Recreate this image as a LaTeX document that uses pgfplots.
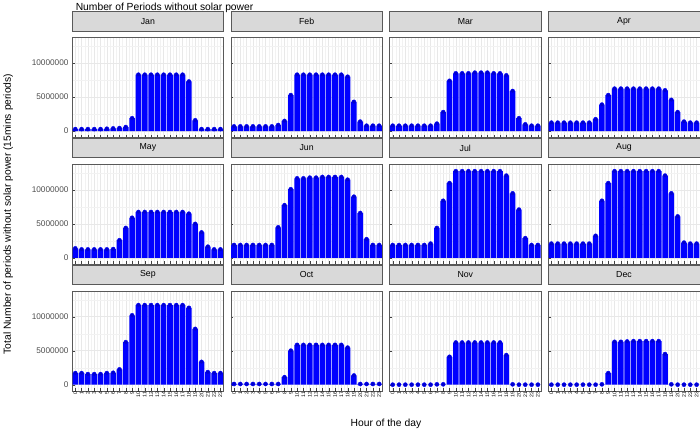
\documentclass[border=0pt]{standalone}
\usepackage{pgfplots}
\usepackage{pgfplotstable}
\pgfplotsset{compat=1.18}
\usepgfplotslibrary{groupplots}
\usepackage{fontspec}
\setmainfont{Liberation Sans}
\definecolor{barc}{HTML}{595959}
\definecolor{stripc}{HTML}{D9D9D9}
\pgfplotstableread{
h Jan Feb Mar Apr May Jun Jul Aug Sep Oct Nov Dec
0 0.3 0.7 0.8 1.25 1.4 1.9 1.9 2.1 1.7 0.1 0 0
1 0.3 0.7 0.8 1.25 1.25 1.9 1.9 2.1 1.7 0.1 0 0
2 0.3 0.7 0.8 1.25 1.25 1.9 1.9 2.1 1.55 0.1 0 0
3 0.3 0.7 0.8 1.25 1.25 1.9 1.9 2.1 1.55 0.1 0 0
4 0.3 0.7 0.8 1.25 1.25 1.9 1.9 2.1 1.55 0.1 0 0
5 0.35 0.7 0.8 1.25 1.25 1.9 1.9 2.1 1.7 0.1 0 0
6 0.4 0.7 0.8 1.25 1.3 1.9 2.1 2.1 1.75 0.1 0 0
7 0.45 0.9 1.1 1.75 2.6 4.5 4.4 3.25 2.25 0.1 0.05 0
8 0.6 1.5 2.8 3.9 4.4 7.75 8.4 8.4 6.25 1.1 0.05 0.05
9 1.9 5.3 7.4 5.3 5.9 10.1 11.0 11.0 10.2 5.0 4.1 1.7
10 8.3 8.3 8.5 6.25 6.75 11.7 12.75 12.75 11.7 5.85 6.2 6.3
11 8.3 8.3 8.5 6.25 6.75 11.7 12.75 12.75 11.7 5.85 6.2 6.3
12 8.3 8.3 8.5 6.25 6.75 11.8 12.75 12.75 11.7 5.85 6.2 6.35
13 8.3 8.3 8.6 6.25 6.75 11.8 12.75 12.75 11.7 5.85 6.2 6.4
14 8.3 8.3 8.6 6.25 6.75 11.9 12.75 12.75 11.7 5.85 6.2 6.4
15 8.3 8.3 8.6 6.25 6.75 11.9 12.75 12.75 11.7 5.85 6.2 6.4
16 8.3 8.3 8.5 6.25 6.75 11.9 12.75 12.75 11.7 5.85 6.2 6.4
17 8.3 8.3 8.5 6.25 6.75 11.9 12.75 12.75 11.7 5.85 6.2 6.4
18 7.3 8.0 8.2 6.0 6.5 11.5 12.1 12.1 11.3 5.45 4.35 4.5
19 1.6 4.3 5.9 4.6 5.0 9.0 9.5 9.5 8.2 1.35 0.05 0.05
20 0.3 1.4 1.9 2.8 3.75 6.6 7.1 6.1 3.35 0.1 0 0
21 0.3 0.8 1.0 1.4 1.65 2.75 2.9 2.25 1.85 0.1 0 0
22 0.3 0.8 0.8 1.25 1.25 1.9 1.9 2.1 1.7 0.1 0 0
23 0.3 0.8 0.8 1.25 1.25 1.9 1.9 2.1 1.7 0.1 0 0
}\data
\begin{document}
\begin{tikzpicture}[font=\fontsize{9}{10}\selectfont]
\begin{groupplot}[
  group style={group size=4 by 3, horizontal sep=7pt, vertical sep=26pt,
    xticklabels at=edge bottom, yticklabels at=edge left},
  scale only axis, width=147pt, height=97pt,
  xmin=-0.5, xmax=23.5, ymin=-0.9, ymax=13.8,
  axis line style={gray!70!black},
  xtick={0,...,23}, minor xtick={-0.5,0.5,...,23.5},
  ytick={0,5,10}, yticklabels={0,5000000,10000000},
  minor ytick={2.5,7.5,12.5},
  xticklabels={0,1,2,3,4,5,6,7,8,9,10,11,12,13,14,15,16,17,18,19,20,21,22,23},
  xticklabel style={rotate=90, anchor=east, font=\fontsize{5}{5}\selectfont, inner sep=1pt},
  yticklabel style={font=\fontsize{8}{8}\selectfont, text=black!70},
  grid=both, major grid style={gray!18, line width=0.5pt}, minor grid style={gray!10, line width=0.3pt},
  tick style={gray!50!black}, major tick length=2.5pt, minor tick length=0pt,
  tick pos=left,
  title style={at={(0.5,1)}, anchor=south, fill=stripc, draw=gray!70!black,
    minimum width=147pt, minimum height=19pt, inner sep=0pt, yshift=0pt,
    font=\fontsize{8.5}{9}\selectfont},
  every axis plot/.style={ybar, bar width=0.88, fill=barc, draw=none, bar shift=0pt},
]
\nextgroupplot[title=Jan]\addplot table[x=h,y=Jan]{\data};
\nextgroupplot[title=Feb]\addplot table[x=h,y=Feb]{\data};
\nextgroupplot[title=Mar]\addplot table[x=h,y=Mar]{\data};
\nextgroupplot[title=Apr]\addplot table[x=h,y=Apr]{\data};
\nextgroupplot[title=May]\addplot table[x=h,y=May]{\data};
\nextgroupplot[title=Jun]\addplot table[x=h,y=Jun]{\data};
\nextgroupplot[title=Jul]\addplot table[x=h,y=Jul]{\data};
\nextgroupplot[title=Aug]\addplot table[x=h,y=Aug]{\data};
\nextgroupplot[title=Sep]\addplot table[x=h,y=Sep]{\data};
\nextgroupplot[title=Oct]\addplot table[x=h,y=Oct]{\data};
\nextgroupplot[title=Nov]\addplot table[x=h,y=Nov]{\data};
\nextgroupplot[title=Dec]\addplot table[x=h,y=Dec]{\data};
\end{groupplot}
\node[anchor=south west, font=\fontsize{10}{11}\selectfont] at ([yshift=20pt]group c1r1.north west) {Number of Periods without solar power};
\node[font=\fontsize{10}{11}\selectfont, rotate=90] at ([xshift=-62pt]group c1r2.west) {Total Number of periods without solar power (15mins periods)};
\node[font=\fontsize{10}{11}\selectfont, anchor=north] at ([xshift=3.5pt,yshift=-24pt]group c2r3.south east) {Hour of the day};
\end{tikzpicture}
\end{document}
